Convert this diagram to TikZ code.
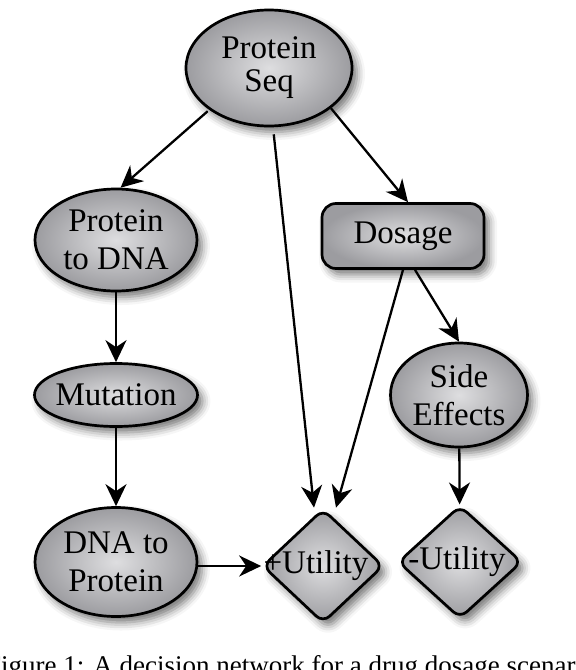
\documentclass[tikz,border=0pt]{standalone}
\usepackage{fontspec}
\setmainfont{Liberation Serif}
\usetikzlibrary{shapes.geometric,shadows.blur,arrows.meta}
\definecolor{nodein}{HTML}{DEDEE0}
\definecolor{nodeout}{HTML}{9C9CA0}
\tikzset{
 base/.style={draw=black, line width=2.7pt, inner color=nodein, outer color=nodeout,
   blur shadow={shadow xshift=5pt, shadow yshift=-6pt, shadow blur radius=8pt, shadow opacity=55},
   font=\fontsize{33}{38}\selectfont, align=center, inner sep=0pt},
 ell/.style={base, ellipse},
 dosebox/.style={base, rectangle, rounded corners=14pt},
 util/.style={base, diamond, rounded corners=9pt},
 arr/.style={line width=2.3pt, -{Stealth[length=22pt,width=21pt,inset=7pt]}},
}
\begin{document}
\begin{tikzpicture}[x=1pt,y=-1pt]
\path[use as bounding box, clip] (0,0) rectangle (576,670);
\node[ell, minimum width=166pt, minimum height=116pt] (ps) at (269,68) {Protein\\[-5pt]Seq};
\node[ell, minimum width=162pt, minimum height=102pt] (p2d) at (116,240) {Protein\\to DNA};
\node[ell, minimum width=163pt, minimum height=63pt, inner xsep=-3pt] (mut) at (116,395) {Mutation};
\node[ell, minimum width=162pt, minimum height=109pt] (d2p) at (116,562) {DNA to\\Protein};
\node[dosebox, minimum width=162pt, minimum height=65pt] (dos) at (403,236) {Dosage};
\node[ell, minimum width=137pt, minimum height=104pt] (se) at (459,395) {Side\\Effects};
\node[util, minimum width=121pt, minimum height=114pt] (pu) at (323,566) {\makebox[0pt]{+Utility\hspace{14pt}}};
\node[util, minimum width=124pt, minimum height=113pt] (mu) at (460,562) {\makebox[0pt]{-Utility\hspace{6pt}}};

\draw[arr, shorten <=2pt] (ps.215) -- (p2d.85);
\draw[arr, shorten <=7pt] ([xshift=4pt]ps.south) -- ([xshift=-9pt]pu.north);
\draw[arr] (ps.327) -- ([xshift=5pt]dos.north);
\draw[arr] ([xshift=12pt]dos.south) -- (se.north);
\draw[arr] (dos.south) -- ([xshift=13pt]pu.north);
\draw[arr] (p2d) -- (mut);
\draw[arr] (mut) -- (d2p);
\draw[arr] (se) -- (mu);
\draw[arr] (d2p.east |- pu.west) -- (pu.west);

\node[anchor=base west, font=\fontsize{27}{30}\selectfont, inner sep=0pt] (cap) at (-14,674)
  {Figure 1: A decision network for a drug dosage scenario};
\end{tikzpicture}
\end{document}
